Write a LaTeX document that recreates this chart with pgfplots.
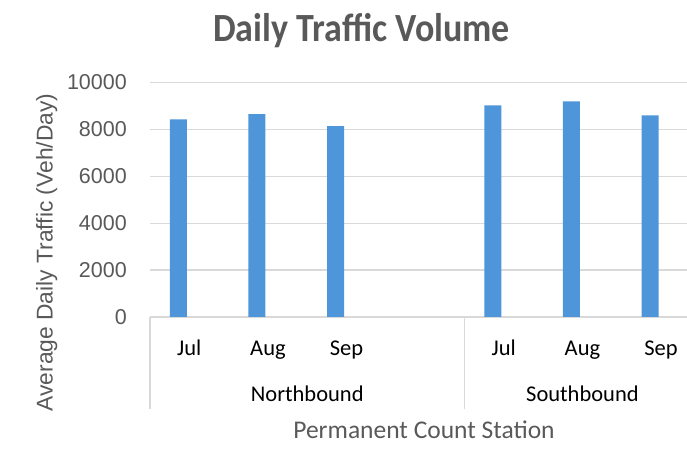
\documentclass[border=0pt]{standalone}
\usepackage{fontspec}
\setmainfont{Liberation Sans}
\newfontfamily\catfont{Carlito}
\usepackage{pgfplots}
\pgfplotsset{compat=1.18}
\definecolor{barblue}{HTML}{4F95D9}
\definecolor{txtgray}{HTML}{595959}
\definecolor{gridgray}{HTML}{D9D9D9}
\begin{document}
\begin{tikzpicture}
\path[use as bounding box] (0pt,0pt) rectangle (687pt,449pt);
\begin{axis}[
  at={(150pt,132pt)}, anchor=south west,
  scale only axis, width=537pt, height=234.5pt,
  xmin=-0.5, xmax=6.33, ymin=0, ymax=10000,
  clip=false,
  axis line style={draw=none},
  ybar, bar width=17pt, bar shift=-11pt,
  ymajorgrids, grid style={gridgray, line width=1.3pt},
  major tick length=0pt,
  ytick={0,2000,4000,6000,8000,10000},
  scaled y ticks=false,
  /pgf/number format/1000 sep={},
  /pgf/number format/assume math mode=true,
  yticklabel style={font=\fontsize{21.5}{21.5}\selectfont, text=txtgray, inner sep=0pt, anchor=east, xshift=-23pt},
  xtick={0,1,2,4,5,6},
  xticklabels={Jul,Aug,Sep,Jul,Aug,Sep},
  xticklabel style={font=\catfont\fontsize{22.5}{22.5}\selectfont, text=black, inner sep=0pt, anchor=base, yshift=-39pt},
]
\addplot[fill=barblue, draw=none] coordinates {(0,8430) (1,8650) (2,8140) (4,9020) (5,9200) (6,8600)};
\draw[gridgray, line width=1.3pt] (axis cs:-0.5,0) -- ([yshift=-92pt]axis cs:-0.5,0);
\draw[gridgray, line width=1.3pt] (axis cs:3.5,0) -- ([yshift=-92pt]axis cs:3.5,0);
\node[font=\catfont\fontsize{22.5}{22.5}\selectfont, anchor=base, inner sep=0pt, yshift=-84.7pt] at (axis cs:1.5,0) {Northbound};
\node[font=\catfont\fontsize{22.5}{22.5}\selectfont, anchor=base, inner sep=0pt, yshift=-84.7pt] at (axis cs:5,0) {Southbound};
\end{axis}
\node[anchor=base, inner sep=0pt, text=txtgray, font=\catfont\bfseries\fontsize{40}{40}\selectfont] at (361.5pt,407pt) {\scalebox{0.9}[1]{Daily Traffic Volume}};
\node[anchor=base, inner sep=0pt, text=txtgray, font=\catfont\fontsize{25.5}{25.5}\selectfont] at (424pt,10pt) {Permanent Count Station};
\node[rotate=90, anchor=base, inner sep=0pt, text=txtgray, font=\fontsize{22.8}{22.8}\selectfont] at (52.5pt,196.5pt) {Average Daily Traffic (Veh/Day)};
\end{tikzpicture}
\end{document}
